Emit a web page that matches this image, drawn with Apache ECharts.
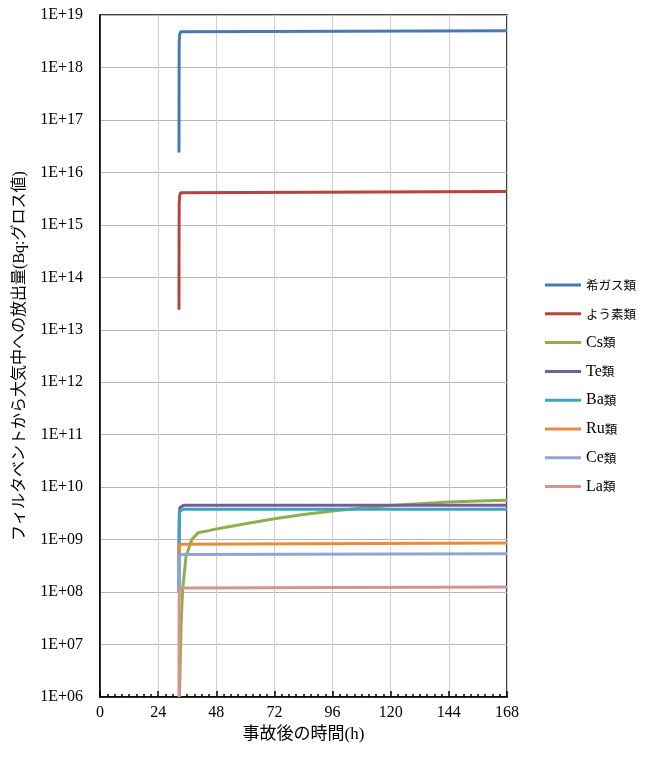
<!DOCTYPE html>
<html><head><meta charset="utf-8">
<script src="https://cdn.jsdelivr.net/npm/echarts@6/dist/echarts.min.js"></script>
<style>html,body{margin:0;padding:0;background:#fff}#c{width:657px;height:758px}</style>
</head><body><div id="c"></div>
<script>
const seriesNames = ['希ガス類','よう素類','Cs類','Te類','Ba類','Ru類','Ce類','La類'];
const seriesColors = ['#4a78b0','#b9413e','#8db04c','#7a5c9c','#3fa3bd','#ec8a3c','#8fa6d2','#d79391'];
const xTicks = [0,24,48,72,96,120,144,168];
const yExponents = [6,7,8,9,10,11,12,13,14,15,16,17,18,19];

const nobleGas = [[32.6,2.4e16],[32.62,1e17],[32.65,1e18],[32.7,3.2e18],[32.9,4.3e18],[33.3,4.8e18],[34,5.0e18],[168,5.0e18]];
const iodine   = [[32.6,2.4e13],[32.62,1e14],[32.65,1e15],[32.7,2.6e15],[32.9,3.6e15],[33.3,4.1e15],[34,4.3e15],[168,4.3e15]];
const cesium   = [[32.8,1e6],[33.5,2.6e7],[34.1,1.1e8],[35.5,4.8e8],[37.9,1.0e9],[40.5,1.35e9],[45.4,1.5e9],[48,1.6e9],[60,2.0e9],[72,2.5e9],[84,3.0e9],[96,3.5e9],[108,4.0e9],[120,4.45e9],[132,4.85e9],[144,5.2e9],[156,5.45e9],[168,5.65e9]];
const tellurium= [[32.6,1e8],[32.65,1e9],[32.75,3.2e9],[33,4.1e9],[33.5,4.4e9],[34.5,4.5e9],[168,4.5e9]];
const barium   = [[32.6,1e8],[32.65,1e9],[32.75,2.8e9],[33,3.5e9],[33.5,3.75e9],[34.5,3.8e9],[168,3.8e9]];
const ruthenium= [[32.6,5.5e8],[32.7,7e8],[33,8.2e8],[33.6,8.6e8],[168,8.6e8]];
const cerium   = [[32.6,1e8],[32.65,3e8],[32.8,4.6e8],[33.2,5.2e8],[34,5.4e8],[168,5.4e8]];
const lanthanum= [[32.6,1e6],[32.62,1e7],[32.65,6e7],[32.8,1.05e8],[33.3,1.2e8],[34,1.25e8],[168,1.25e8]];
const allData = [nobleGas, iodine, cesium, tellurium, barium, ruthenium, cerium, lanthanum];

const serif = "'Liberation Serif','DejaVu Serif','Noto Sans CJK JP',serif";
const cjk = "'Noto Sans CJK JP',sans-serif";
function legendText(name){
  const m = name.match(/^([A-Za-z]*)(.*)$/);
  return (m[1] ? '{l|'+m[1]+'}' : '') + '{c|'+m[2]+'}';
}
const chart = echarts.init(document.getElementById('c'));
chart.setOption({
  animation:false,
  backgroundColor:'#fff',
  grid:{left:100,right:150,top:15,bottom:61,containLabel:false,outerBoundsMode:'none',show:true,borderColor:'#000',borderWidth:1.5,backgroundColor:'transparent'},
  legend:{
    orient:'vertical', left:540, top:272,
    icon:'rect', itemWidth:36, itemHeight:3, itemGap:12.8,
    formatter:legendText,
    textStyle:{fontFamily:serif, fontSize:16, lineHeight:16, color:'#000',
      rich:{
        l:{fontFamily:serif, fontSize:16, lineHeight:16, color:'#000'},
        c:{fontFamily:cjk, fontSize:12.5, lineHeight:16, color:'#000'}
      }},
    data:seriesNames
  },
  xAxis:{
    type:'value', min:xTicks[0], max:xTicks[xTicks.length-1], interval:24,
    name:'事故後の時間(h)', nameLocation:'middle', nameGap:29,
    nameTextStyle:{fontFamily:serif, fontSize:17, color:'#000'},
    axisLine:{show:true,lineStyle:{color:'#000',width:1.5}},
    axisTick:{show:true,inside:true,length:6,lineStyle:{color:'#000',width:1.5}},
    minorTick:{show:true,splitNumber:8,length:3,lineStyle:{color:'#000',width:1.5}},
    axisLabel:{fontFamily:serif,fontSize:16,color:'#000',margin:8},
    splitLine:{show:true,lineStyle:{color:'#d0d0d0',width:1}}
  },
  yAxis:{
    type:'log', logBase:10, min:Math.pow(10,yExponents[0]), max:Math.pow(10,yExponents[yExponents.length-1]), interval:1,
    name:'フィルタベントから大気中への放出量(Bq:グロス値)', nameLocation:'middle', nameGap:72,
    nameTextStyle:{fontFamily:serif, fontSize:16, color:'#000'},
    axisLine:{show:true,lineStyle:{color:'#000',width:1.5}},
    axisTick:{show:false},
    axisLabel:{fontFamily:serif,fontSize:16,color:'#000',margin:17,
      formatter:function(v){const e=Math.round(Math.log10(v));return '1E+'+(e<10?'0':'')+e;}},
    splitLine:{show:true,lineStyle:{color:'#b8b8b8',width:1}}
  },
  series: seriesNames.map((n,i)=>({
    name:n, type:'line', data:allData[i], symbol:'none', showSymbol:false,
    lineStyle:{width:3,color:seriesColors[i]}, itemStyle:{color:seriesColors[i]},
    z:2+i
  }))
});
</script></body></html>
